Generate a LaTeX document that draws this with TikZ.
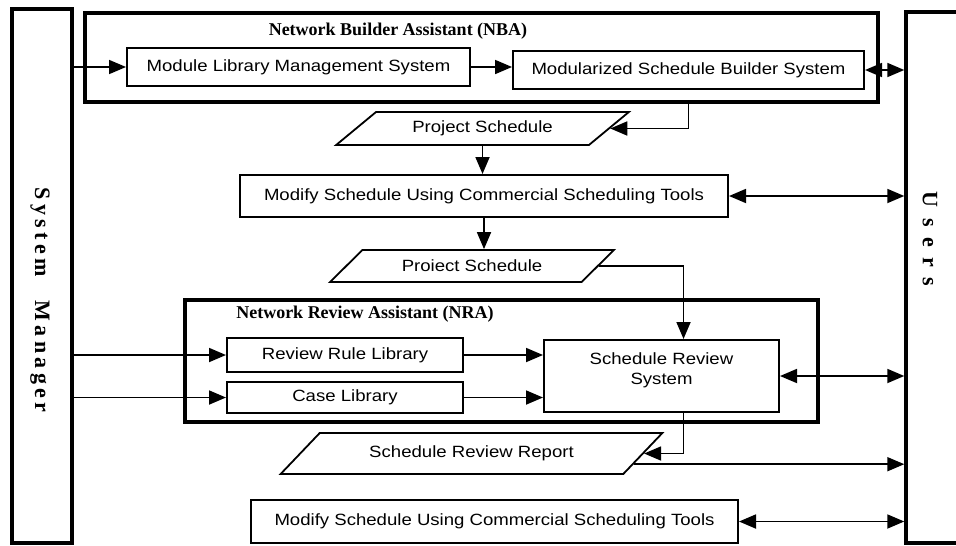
\documentclass[tikz,border=0pt]{standalone}
\usepackage{fontspec}
\newfontfamily\boxfont[FakeStretch=1.14]{Liberation Sans}
\newfontfamily\titlefont{Liberation Serif}
\usetikzlibrary{shapes,arrows.meta,calc}

\begin{document}
\begin{tikzpicture}[
  x=1pt, y=-1pt,
  block/.style={
    rectangle,
    draw=black,
    line width=2pt,
    inner sep=0pt,
    align=center,
    font=\boxfont\fontsize{16.3}{20}\selectfont
  },
  doc/.style={
    trapezium,
    trapezium left angle=30,
    trapezium right angle=150,
    trapezium stretches=true,
    draw=black,
    line width=1.8pt,
    inner sep=0pt,
    font=\boxfont\fontsize{16.3}{20}\selectfont
  },
  group/.style={rectangle, draw=black, line width=3.4pt, inner sep=0pt},
  actor/.style={rectangle, draw=black, line width=3.4pt, inner sep=0pt},
  grouptitle/.style={font=\titlefont\bfseries\fontsize{18}{20}\selectfont},
  actortext/.style={rotate=-90, font=\titlefont\bfseries\fontsize{22}{24}\selectfont},
  flow/.style={-{Triangle[length=17pt,width=14pt]}, line width=1.8pt},
  twoway/.style={{Triangle[length=17pt,width=14pt]}-{Triangle[length=17pt,width=14pt]}, line width=1.8pt}
]
\useasboundingbox (0,0) rectangle (956,546);

% --- ACTORS --------------------------------------------------------
\node[actor, minimum width=60pt, minimum height=534pt] (sysmgr) at (42,276) {};
\node[actortext] (sysmgrtxt) at (40,300)
  {\addfontfeature{LetterSpace=20}System\hspace{24pt}Manager};
\node[actor, minimum width=70pt, minimum height=531pt] (users) at (941,277.5) {};
\node[actortext] (userstxt) at (930,239)
  {\addfontfeature{LetterSpace=48}Users};

% --- NETWORK BUILDER ASSISTANT ------------------------------------
\node[group, minimum width=793pt, minimum height=89pt] (nba) at (481.5,57.5) {};
\node[grouptitle] (nbatitle) at (398,31) {Network Builder Assistant (NBA)};
\node[block, minimum width=343pt, minimum height=38pt] (mlms) at (298.5,67)
  {Module Library Management System};
\node[block, minimum width=351pt, minimum height=38pt] (msbs) at (688.5,70)
  {Modularized Schedule Builder System};

% --- SCHEDULE ------------------------------------------------------
\node[doc, minimum width=293pt, minimum height=33pt] (projsched) at (482.5,128.5)
  {Project Schedule};
\node[block, minimum width=488pt, minimum height=42pt] (modify1) at (484,196)
  {Modify Schedule Using Commercial Scheduling Tools};
\node[doc, minimum width=284pt, minimum height=32pt] (projsched2) at (472,266)
  {Proiect Schedule};

% --- NETWORK REVIEW ASSISTANT -------------------------------------
\node[group, minimum width=633pt, minimum height=122pt] (nra) at (501.5,361) {};
\node[grouptitle] (nratitle) at (365,314) {Network Review Assistant (NRA)};
\node[block, minimum width=236pt, minimum height=34pt] (rulelib) at (345,355)
  {Review Rule Library};
\node[block, minimum width=236pt, minimum height=31pt] (caselib) at (345,397.5)
  {Case Library};
\node[block, minimum width=235pt, minimum height=72pt, text depth=14pt] (review) at (661.5,376)
  {Schedule Review\\System};

% --- REPORT --------------------------------------------------------
\node[doc, minimum width=383pt, minimum height=41pt] (report) at (471.5,453.5)
  {Schedule Review Report};
\node[block, minimum width=487pt, minimum height=43pt] (modify2) at (494.5,521.5)
  {Modify Schedule Using Commercial Scheduling Tools};

% --- ARROWS --------------------------------------------------------
\draw[flow] (sysmgr.east |- mlms.west) -- (mlms.west);
\draw[flow] (mlms.east) -- (mlms.east -| msbs.west);
\draw[twoway] (msbs.east) -- (msbs.east -| users.west);
\draw[flow] (nba.south -| msbs.center) |- (projsched);
\draw[flow] (projsched.south) -- (projsched.south |- modify1.north);
\draw[twoway] (modify1.east) -- (modify1.east -| users.west);
\draw[flow] (modify1.south) -- (modify1.south |- projsched2.north);
\draw[flow] ($(projsched2.top right corner)!0.5!(projsched2.bottom right corner)$)
  -| ([xshift=22pt]review.north);
\draw[flow] (sysmgr.east |- rulelib.west) -- (rulelib.west);
\draw[flow] (sysmgr.east |- caselib.west) -- (caselib.west);
\draw[flow] (rulelib.east) -- (rulelib.east -| review.west);
\draw[flow] (caselib.east) -- (caselib.east -| review.west);
\draw[twoway] (review.east) -- (review.east -| users.west);
\draw[flow] ([xshift=22pt]review.south) |- (report);
\coordinate (reportout) at ($(report.top right corner)!0.75!(report.bottom right corner)$);
\draw[flow] (reportout) -- (reportout -| users.west);
\draw[twoway] (modify2.east) -- (modify2.east -| users.west);

\end{tikzpicture}
\end{document}
